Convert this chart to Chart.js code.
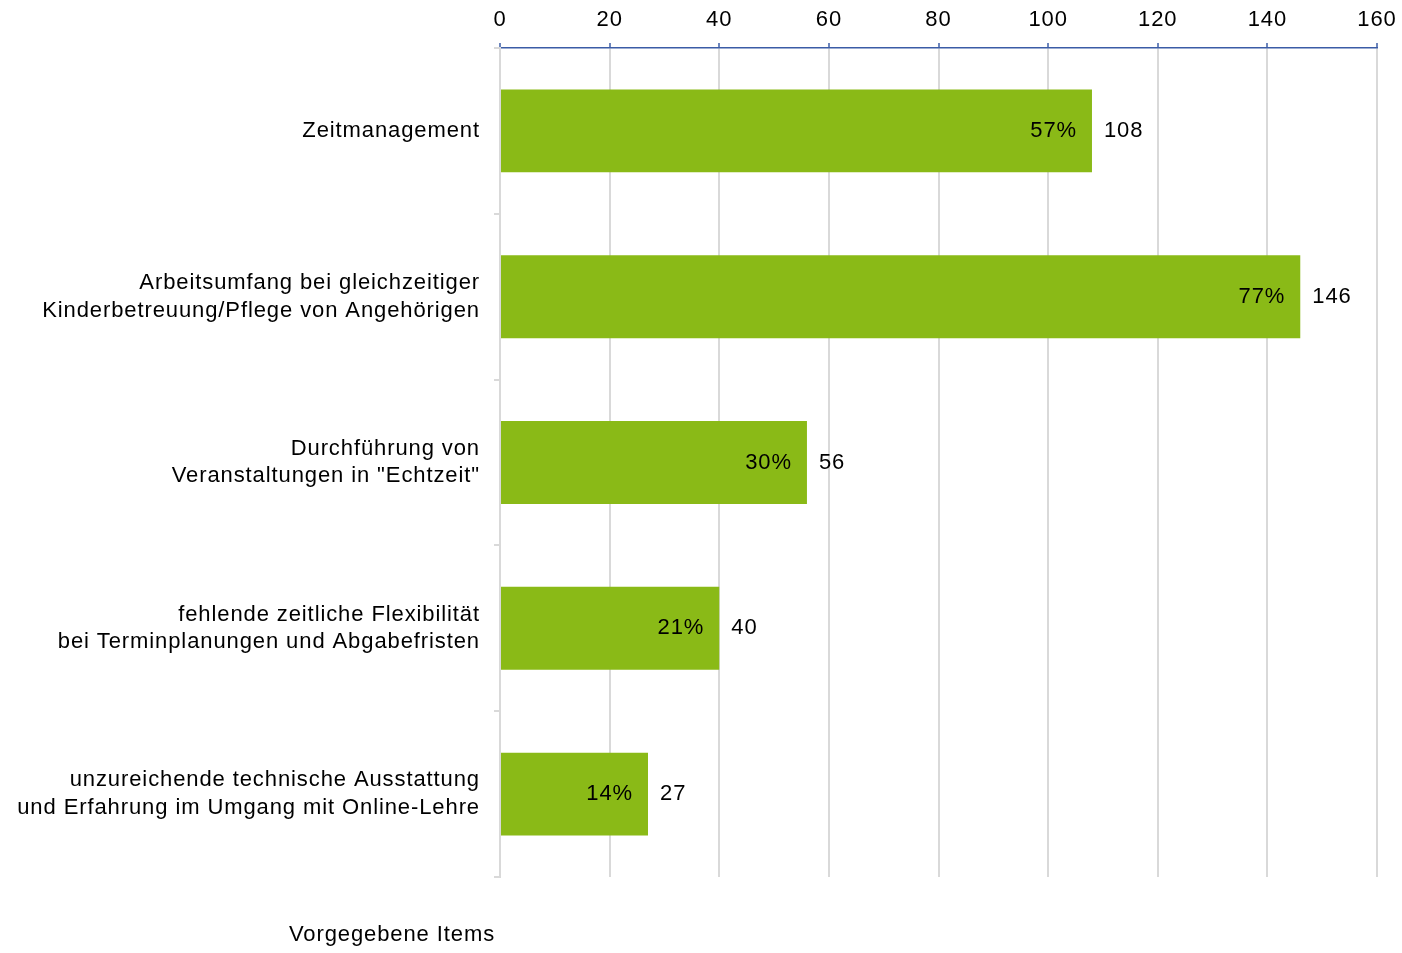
<!DOCTYPE html>
<html><head><meta charset="utf-8">
<script src="https://cdn.jsdelivr.net/npm/chart.js@4"></script>
<style>html,body{margin:0;padding:0;background:#fff}#wrap{width:1402px;height:953px;position:relative}</style>
</head><body><div id="wrap"><canvas id="c"></canvas></div>
<script>
const categories = [
  ["Zeitmanagement"],
  ["Arbeitsumfang bei gleichzeitiger", "Kinderbetreuung/Pflege von Angehörigen"],
  ["Durchführung von", "Veranstaltungen in \"Echtzeit\""],
  ["fehlende zeitliche Flexibilität", "bei Terminplanungen und Abgabefristen"],
  ["unzureichende technische Ausstattung", "und Erfahrung im Umgang mit Online-Lehre"]
];
const counts = [108, 146, 56, 40, 27];
const percents = ["57%", "77%", "30%", "21%", "14%"];
const axisTitle = "Vorgegebene Items";
const FONT = "'Liberation Sans', Arial, sans-serif";
const SPACING = "0.9px";

const spacingPlugin = {
  id: 'spacing',
  beforeLayout(chart) { chart.ctx.letterSpacing = SPACING; },
  beforeDraw(chart) { chart.ctx.letterSpacing = SPACING; }
};

const labelPlugin = {
  id: 'labels',
  afterDatasetsDraw(chart) {
    const ctx = chart.ctx;
    const meta = chart.getDatasetMeta(0);
    ctx.save();
    ctx.letterSpacing = SPACING;
    ctx.font = "22px " + FONT;
    ctx.fillStyle = "#000";
    ctx.textBaseline = "middle";
    meta.data.forEach((bar, i) => {
      ctx.textAlign = "right";
      ctx.fillText(percents[i], bar.x - 15, bar.y);
      ctx.textAlign = "left";
      ctx.fillText(String(counts[i]), bar.x + 12, bar.y);
    });
    const ca = chart.chartArea;
    ctx.textAlign = "center";
    ctx.fillText(axisTitle, ca.left - 108, chart.height - 18);
    ctx.restore();
  }
};

new Chart(document.getElementById('c'), {
  type: 'bar',
  data: {
    labels: categories,
    datasets: [{
      data: counts,
      backgroundColor: '#8aba17',
      borderWidth: 0,
      barPercentage: 1,
      categoryPercentage: 0.5
    }]
  },
  options: {
    indexAxis: 'y',
    responsive: true,
    maintainAspectRatio: false,
    animation: false,
    layout: { padding: { top: 0, right: 25, bottom: 76, left: 0 } },
    plugins: { legend: { display: false }, tooltip: { enabled: false } },
    scales: {
      x: {
        position: 'top',
        min: 0, max: 160,
        ticks: { stepSize: 20, color: '#000', font: { family: FONT, size: 22 }, padding: 10 },
        grid: { color: '#d9d9d9', lineWidth: 2, tickColor: '#3b5ca6', tickLength: 5, tickWidth: 1.5 },
        border: { color: '#3b5ca6', width: 1.5 },
        afterFit(scale) { scale.height = 48; scale.paddingRight = 0; scale.paddingLeft = 0; }
      },
      y: {
        ticks: { color: '#000', font: { family: FONT, size: 22, lineHeight: 1.25 }, padding: 14 },
        grid: { offset: true, drawOnChartArea: false, color: '#d9d9d9', lineWidth: 2, tickLength: 6 },
        border: { color: '#d9d9d9', width: 2 },
        afterFit(scale) { scale.width = 500; }
      }
    }
  },
  plugins: [spacingPlugin, labelPlugin]
});
</script></body></html>
